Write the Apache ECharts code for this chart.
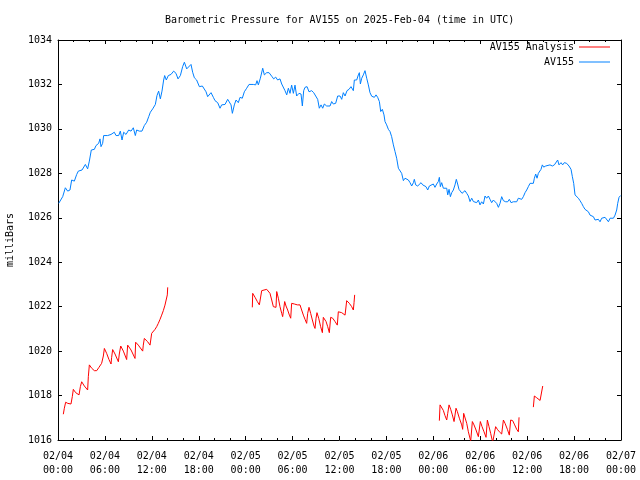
<!DOCTYPE html>
<html>
<head>
<meta charset="utf-8">
<script src="https://cdn.jsdelivr.net/npm/echarts@6/dist/echarts.min.js"></script>
<style>html,body{margin:0;padding:0;background:#fff;}#c{width:640px;height:480px;}</style>
</head>
<body>
<div id="c"></div>
<script>
// Hours since 2025-02-04 00:00 UTC
const xTickLabels = ['02/04\n00:00','02/04\n06:00','02/04\n12:00','02/04\n18:00','02/05\n00:00','02/05\n06:00','02/05\n12:00','02/05\n18:00','02/06\n00:00','02/06\n06:00','02/06\n12:00','02/06\n18:00','02/07\n00:00'];

const blueHours = [0.09,0.60,0.94,1.24,1.53,1.75,2.09,2.39,2.60,3.07,3.50,3.79,4.01,4.26,4.65,4.86,5.20,5.37,5.50,5.71,5.84,6.35,6.78,7.20,7.42,7.76,7.97,8.19,8.40,8.70,9.04,9.34,9.63,9.89,10.06,10.40,10.74,11.04,11.34,11.60,11.81,12.11,12.45,12.66,12.87,13.09,13.30,13.51,13.64,13.85,14.11,14.45,14.79,15.09,15.35,15.65,15.94,16.16,16.46,16.71,17.01,17.22,17.44,17.73,18.08,
18.46,18.71,18.93,19.14,19.31,19.57,19.87,20.08,20.42,20.72,20.93,21.36,21.70,21.91,22.13,22.30,22.55,22.77,23.06,23.28,23.57,23.83,24.13,24.43,24.98,25.28,25.45,25.62,25.88,26.18,26.39,26.69,26.99,27.33,27.58,27.84,28.09,28.39,28.61,28.82,29.03,29.25,29.46,29.67,29.88,30.10,30.31,30.52,30.82,31.08,31.25,31.42,31.59,31.85,32.10,32.44,32.70,32.95,33.21,33.42,33.64,33.85,34.06,34.36,34.79,35.00,35.21,35.51,35.77,35.98,
36.07,36.28,36.49,36.71,36.96,37.22,37.47,37.64,37.77,37.90,38.20,38.41,38.54,38.67,38.84,39.05,39.26,39.48,39.69,39.90,40.12,40.46,40.67,40.88,41.10,41.27,41.48,41.69,41.82,42.03,42.25,42.46,42.67,42.89,43.10,43.31,43.53,43.74,43.95,44.17,44.38,44.59,44.81,45.02,45.23,45.45,45.57,45.74,46.00,46.21,46.43,46.64,46.85,47.06,47.28,47.49,47.70,48.00,48.21,48.43,48.64,48.77,48.90,49.07,49.28,49.49,49.71,49.84,50.01,50.18,50.35,50.56,50.77,50.94,51.11,51.28,51.45,51.67,51.88,52.05,52.27,52.48,52.69,52.91,53.12,53.33,53.54,53.76,
53.97,54.18,54.40,54.61,54.82,55.04,55.25,55.46,55.68,55.89,56.10,56.32,56.53,56.74,56.96,57.25,57.51,57.72,57.94,58.23,58.66,58.87,59.09,59.30,59.51,59.73,59.94,60.15,60.37,60.58,60.79,60.92,61.09,61.26,61.43,61.64,61.77,61.94,62.11,62.37,62.62,62.92,63.22,63.48,63.73,63.90,64.07,64.33,64.54,64.75,65.05,65.35,65.61,65.78,65.95,66.12,66.33,66.55,66.76,66.97,67.19,67.40,67.61,67.83,68.04,68.25,68.47,68.68,68.89,69.11,69.32,69.53,69.75,69.96,70.17,70.39,70.60,70.81,71.03,71.24,71.45,71.58,71.75,71.95];

const bluePressure = [1026.65,1026.95,1027.35,1027.2,1027.25,1027.7,1027.65,1027.95,1028.1,1028.15,1028.4,1028.2,1028.55,1029.05,1029.08,1029.25,1029.35,1029.55,1029.2,1029.35,1029.7,1029.7,1029.75,1029.85,1029.7,1029.7,1029.9,1029.5,1029.85,1029.75,1029.95,1029.9,1030.05,1029.7,1029.95,1029.9,1029.9,1030.15,1030.3,1030.55,1030.75,1030.9,1031.1,1031.5,1031.7,1031.35,1031.7,1032.2,1032.4,1032.2,1032.4,1032.45,1032.6,1032.5,1032.25,1032.4,1032.8,1033.0,1032.7,1032.7,1032.9,1032.55,1032.3,1032.2,1031.9,
1031.93,1031.93,1031.67,1031.45,1031.38,1031.63,1031.42,1031.27,1031.18,1030.93,1031.08,1031.1,1031.33,1031.4,1031.08,1030.7,1031.08,1031.3,1031.18,1031.42,1031.38,1031.67,1031.83,1032.0,1032.0,1031.98,1032.17,1031.98,1032.28,1032.73,1032.43,1032.53,1032.53,1032.37,1032.25,1032.33,1032.2,1032.25,1032.02,1031.97,1031.72,1031.53,1031.83,1031.6,1031.97,1031.6,1031.97,1031.48,1031.6,1031.57,1031.03,1031.72,1031.87,1031.9,1031.67,1031.72,1031.63,1031.6,1031.33,1030.93,1031.08,1030.93,1031.12,1031.03,1031.03,1031.23,1031.12,1031.15,1031.48,1031.53,
1031.48,1031.33,1031.63,1031.48,1031.72,1031.78,1031.9,1031.98,1031.72,1032.2,1032.2,1032.43,1032.53,1032.02,1032.28,1032.43,1032.62,1032.28,1031.98,1031.63,1031.47,1031.42,1031.53,1031.42,1031.23,1030.78,1030.88,1030.63,1030.33,1030.18,1029.98,1029.88,1029.65,1029.28,1028.98,1028.68,1028.23,1028.15,1028.0,1027.67,1027.78,1027.82,1027.7,1027.58,1027.43,1027.58,1027.73,1027.48,1027.43,1027.52,1027.58,1027.48,1027.52,1027.4,1027.25,1027.43,1027.52,1027.52,1027.37,1027.52,1027.63,1027.82,1027.4,1027.58,1027.33,1027.4,1027.33,1027.03,1027.28,1026.95,1027.13,1027.25,1027.48,1027.73,1027.52,1027.28,1027.33,1027.1,1027.18,1027.22,1027.1,1026.98,1026.73,1026.88,1026.73,1026.8,1026.68,1026.8,
1026.58,1026.72,1026.62,1026.98,1026.88,1026.98,1026.83,1026.68,1026.8,1026.88,1026.65,1026.47,1026.65,1026.95,1026.77,1026.72,1026.72,1026.83,1026.68,1026.72,1026.72,1026.88,1026.88,1026.83,1026.95,1027.13,1027.25,1027.4,1027.55,1027.55,1027.55,1027.78,1027.97,1027.78,1028.0,1028.07,1028.18,1028.38,1028.28,1028.33,1028.38,1028.38,1028.33,1028.38,1028.45,1028.6,1028.38,1028.48,1028.38,1028.48,1028.45,1028.33,1028.18,1027.85,1027.55,1027.03,1026.95,1026.88,1026.77,1026.65,1026.5,1026.38,1026.3,1026.27,1026.12,1026.08,1026.05,1025.9,1025.82,1025.93,1025.82,1025.98,1026.02,1026.02,1026.02,1025.82,1025.98,1026.05,1025.98,1026.12,1026.35,1026.65,1026.92,1027.0];

const redHours = [0.68,0.81,0.98,1.24,1.66,1.83,1.96,2.26,2.69,2.86,3.03,3.37,3.79,3.88,4.01,4.31,4.65,4.95,5.24,5.58,5.80,5.93,6.22,6.52,6.78,6.86,6.99,7.29,7.72,7.84,8.02,8.36,8.78,8.91,9.34,9.85,9.93,10.27,10.83,10.91,11.04,11.47,11.77,11.98,12.19,12.41,12.62,12.83,13.05,13.26,13.47,13.68,13.85,13.98,14.03,
19.0,
24.85,24.90,25.20,25.49,25.75,25.92,26.05,26.26,26.69,26.86,27.11,27.33,27.54,27.75,27.88,27.97,28.18,28.39,28.61,28.73,28.82,28.99,29.16,29.37,29.59,29.76,29.88,30.23,30.61,30.95,31.16,31.38,31.59,31.80,31.93,32.10,32.31,32.53,32.74,32.87,33.00,33.12,33.34,33.59,33.81,33.93,34.10,34.28,34.49,34.70,34.87,35.13,35.43,35.72,35.85,36.28,36.71,36.92,37.26,37.56,37.77,37.86,37.94,
43.0,
48.77,48.86,49.07,49.28,49.49,49.71,49.84,50.01,50.22,50.43,50.65,50.73,50.90,51.07,51.33,51.63,51.75,51.88,52.05,52.27,52.48,52.78,52.99,53.20,53.46,53.76,53.89,54.01,54.23,54.48,54.74,54.91,55.12,55.33,55.59,55.76,55.97,56.19,56.44,56.74,56.96,57.17,57.47,57.72,57.89,58.15,58.40,58.66,58.87,58.96,
60.0,
60.79,60.92,61.22,61.65,61.90,61.99];

const redPressure = [1017.16,1017.43,1017.7,1017.65,1017.62,1017.95,1018.28,1018.13,1018.03,1018.4,1018.62,1018.43,1018.25,1018.85,1019.38,1019.23,1019.12,1019.12,1019.27,1019.45,1019.78,1020.12,1019.9,1019.62,1019.42,1019.72,1020.07,1019.87,1019.52,1019.87,1020.23,1020.0,1019.62,1020.27,1020.05,1019.67,1020.4,1020.27,1020.0,1020.27,1020.57,1020.42,1020.27,1020.8,1020.88,1020.98,1021.1,1021.25,1021.43,1021.62,1021.82,1022.07,1022.12,1022.53,1022.87,
null,
1021.97,1022.6,1022.42,1022.23,1022.08,1022.08,1022.72,1022.78,1022.78,1022.83,1022.6,1022.3,1022.0,1021.97,1021.97,1022.68,1022.38,1022.0,1021.7,1021.55,1021.77,1022.23,1022.03,1021.85,1021.62,1021.48,1022.15,1022.12,1022.08,1022.08,1021.85,1021.62,1021.43,1021.25,1021.7,1021.97,1021.7,1021.4,1021.13,1021.02,1021.48,1021.73,1021.48,1021.1,1020.83,1021.52,1021.52,1021.33,1021.1,1020.83,1021.52,1021.48,1021.33,1021.17,1021.77,1021.73,1021.62,1022.27,1022.15,1022.0,1021.85,1022.18,1022.53,
null,
1016.87,1017.58,1017.58,1017.33,1017.1,1016.9,1017.2,1017.58,1017.38,1017.13,1016.83,1016.75,1017.43,1017.28,1016.98,1016.68,1016.48,1017.2,1017.13,1016.75,1016.37,1015.95,1016.83,1016.68,1016.45,1016.15,1016.18,1016.83,1016.6,1016.37,1016.12,1016.9,1016.6,1016.3,1015.9,1015.95,1016.6,1016.48,1016.37,1016.27,1016.9,1016.75,1016.48,1016.22,1016.9,1016.87,1016.68,1016.48,1016.37,1017.02,
null,
1017.48,1017.98,1017.9,1017.78,1017.78,1018.43];

const FONT = 'DejaVu Sans Mono';
const pair = (ts, vs) => ts.map((t, i) => [t, vs[i] === null ? '-' : vs[i]]);

const baseX = {
  type: 'value', min: 0, max: 72, interval: 6,
  axisLine: { show: true, onZero: false, lineStyle: { color: '#000', width: 1 } },
  axisTick: { show: true, inside: true, length: 4, lineStyle: { color: '#000' } },
  minorTick: { show: true, splitNumber: 3, length: 2, lineStyle: { color: '#000' } },
  splitLine: { show: false }, minorSplitLine: { show: false }
};
const baseY = {
  type: 'value', min: 1016, max: 1034, interval: 2,
  axisLine: { show: true, onZero: false, lineStyle: { color: '#000', width: 1 } },
  axisTick: { show: true, inside: true, length: 4, lineStyle: { color: '#000' } },
  splitLine: { show: false }
};

const chart = echarts.init(document.getElementById('c'), null, { renderer: 'canvas' });
chart.setOption({
  animation: false,
  backgroundColor: '#fff',
  title: {
    text: 'Barometric Pressure for AV155 on 2025-Feb-04 (time in UTC)',
    left: 165, top: 15, padding: 0,
    textStyle: { fontFamily: FONT, fontSize: 10, fontWeight: 'normal', color: '#000' }
  },
  legend: [
    { data: ['AV155 Analysis'], right: 30, top: 42, padding: 0, align: 'right', icon: 'rect', itemWidth: 31, itemHeight: 1,
      textStyle: { fontFamily: FONT, fontSize: 10, color: '#000' } },
    { data: ['AV155'], right: 30, top: 57, padding: 0, align: 'right', icon: 'rect', itemWidth: 31, itemHeight: 1,
      textStyle: { fontFamily: FONT, fontSize: 10, color: '#000' } }
  ],
  grid: { left: 58, right: 19, top: 40, bottom: 40, containLabel: false, outerBoundsMode: 'none' },
  xAxis: [
    Object.assign({}, baseX, { position: 'bottom',
      axisLabel: { show: true, margin: 9, lineHeight: 14, fontFamily: FONT, fontSize: 10, color: '#000',
        formatter: v => xTickLabels[Math.round(v / 6)] } }),
    Object.assign({}, baseX, { position: 'top', axisLabel: { show: false } })
  ],
  yAxis: [
    Object.assign({}, baseY, { position: 'left',
      name: 'milliBars', nameLocation: 'middle', nameGap: 43, nameRotate: 90,
      nameTextStyle: { fontFamily: FONT, fontSize: 10, color: '#000' },
      axisLabel: { show: true, margin: 6, fontFamily: FONT, fontSize: 10, color: '#000',
        formatter: v => String(v) } }),
    Object.assign({}, baseY, { position: 'right', axisLabel: { show: false } })
  ],
  series: [
    { name: 'AV155 Analysis', type: 'line', data: pair(redHours, redPressure), symbol: 'none', showSymbol: false,
      connectNulls: false, clip: true, color: '#ff0000', lineStyle: { color: '#ff0000', width: 1 }, itemStyle: { color: '#ff0000' } },
    { name: 'AV155', type: 'line', data: pair(blueHours, bluePressure), symbol: 'none', showSymbol: false,
      clip: true, color: '#0080ff', lineStyle: { color: '#0080ff', width: 1 }, itemStyle: { color: '#0080ff' } }
  ]
});
</script>
</body>
</html>
